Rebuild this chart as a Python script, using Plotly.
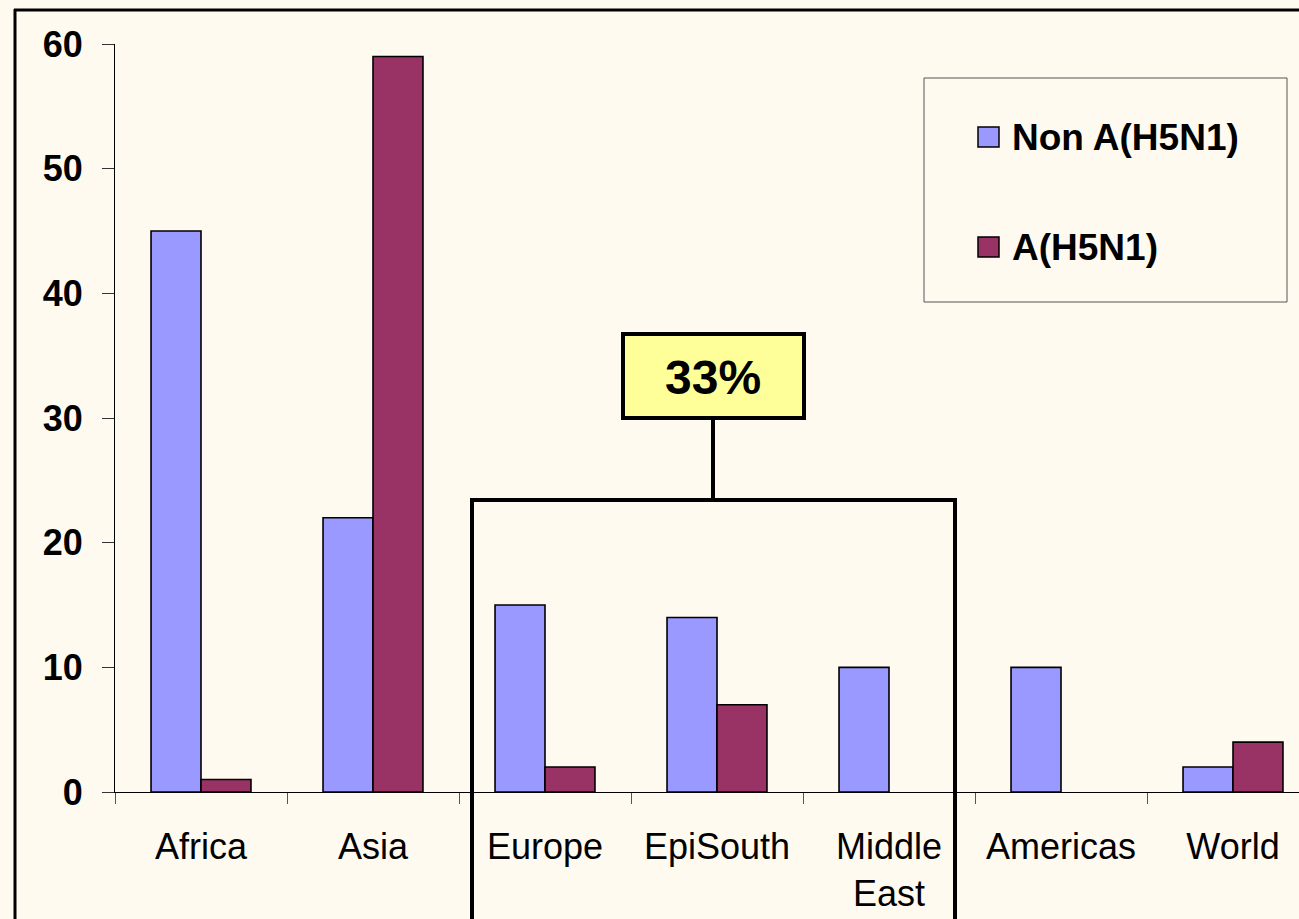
import plotly.graph_objects as go

# Regions and case counts per subtype
regions = ["Africa", "Asia", "Europe", "EpiSouth", "Middle<br>East", "Americas", "World"]
non_h5n1 = [45, 22, 15, 14, 10, 10, 2]
h5n1 = [1, 59, 2, 7, 0, 0, 4]
series_names = ["Non A(H5N1)", "A(H5N1)"]
y_ticks = [0, 10, 20, 30, 40, 50, 60]
callout_text = "33%"

BLUE = "#9999FF"
MAROON = "#993366"
BG = "#FFFAF0"
FONT = "Liberation Sans, Arial, sans-serif"

W, H = 1299, 919
L, R, T, B = 115, 1299, 44, 792  # plot area in pixels


def px(x):
    return (x - L) / (R - L)


def py(y):
    return (B - y) / (B - T)


def outline_widths(values):
    # no outline on empty bars so nothing is drawn along the axis
    return [1.6 if v else 0 for v in values]


fig = go.Figure()
fig.add_trace(go.Bar(x=regions, y=non_h5n1, name=series_names[0],
                     marker=dict(color=BLUE, line=dict(color="black", width=outline_widths(non_h5n1)))))
fig.add_trace(go.Bar(x=regions, y=h5n1, name=series_names[1],
                     marker=dict(color=MAROON, line=dict(color="black", width=outline_widths(h5n1)))))

shapes = []
annotations = []

# outer frame (left and top edges)
shapes.append(dict(type="line", xref="paper", yref="paper", x0=px(15), x1=px(15), y0=py(9), y1=py(930),
                   line=dict(color="black", width=3)))
shapes.append(dict(type="line", xref="paper", yref="paper", x0=px(14), x1=px(1310), y0=py(10), y1=py(10),
                   line=dict(color="black", width=3)))

# bracket around the middle regions
shapes.append(dict(type="rect", xref="paper", yref="paper", x0=px(472), x1=px(955), y0=py(500), y1=py(940),
                   line=dict(color="black", width=4), fillcolor="rgba(0,0,0,0)"))
shapes.append(dict(type="line", xref="paper", yref="paper", x0=px(713), x1=px(713), y0=py(418), y1=py(500),
                   line=dict(color="black", width=4)))
shapes.append(dict(type="rect", xref="paper", yref="paper", x0=px(623), x1=px(804), y0=py(334), y1=py(418),
                   line=dict(color="black", width=4), fillcolor="#FFFF99"))
annotations.append(dict(xref="paper", yref="paper", x=px(713), y=py(377), text=f"<b>{callout_text}</b>",
                        showarrow=False, font=dict(size=48, color="black", family=FONT),
                        xanchor="center", yanchor="middle"))

# legend
shapes.append(dict(type="rect", xref="paper", yref="paper", x0=px(924), x1=px(1287), y0=py(78), y1=py(302),
                   line=dict(color="#555555", width=1), fillcolor=BG))
for (sy, col, name) in [(127, BLUE, series_names[0]), (237, MAROON, series_names[1])]:
    shapes.append(dict(type="rect", xref="paper", yref="paper", x0=px(978), x1=px(999), y0=py(sy), y1=py(sy + 20),
                       line=dict(color="black", width=1.5), fillcolor=col))
    annotations.append(dict(xref="paper", yref="paper", x=px(1010), y=py(sy + 11), text=f"<b>{name}</b>",
                            showarrow=False, font=dict(size=37, color="black", family=FONT),
                            xanchor="left", yanchor="middle"))

fig.update_layout(
    width=W, height=H,
    margin=dict(l=L, r=W - R, t=T, b=H - B, pad=0),
    paper_bgcolor=BG, plot_bgcolor=BG,
    barmode="group", bargap=0.419, bargroupgap=0,
    showlegend=False,
    font=dict(family=FONT, color="black"),
    shapes=shapes, annotations=annotations,
)
fig.update_xaxes(
    type="category", categoryorder="array", categoryarray=regions,
    range=[-0.5, 6.5 - 20 / 172],
    tickson="boundaries", ticks="outside", ticklen=11, tickcolor="#555555", tickwidth=1,
    showline=True, linecolor="black", linewidth=1, showgrid=False, zeroline=False,
    tickfont=dict(size=36, family=FONT, color="black"), ticklabelstandoff=23,
)
fig.update_yaxes(
    range=[0, 60], tickmode="array", tickvals=y_ticks, ticktext=[f"<b>{v}</b>" for v in y_ticks],
    ticks="outside", ticklen=12, tickcolor="#333333", tickwidth=1,
    showline=True, linecolor="black", linewidth=1, showgrid=False, zeroline=False,
    tickfont=dict(size=36, family=FONT, color="black"), ticklabelstandoff=12,
)

fig.write_html("out.html")
